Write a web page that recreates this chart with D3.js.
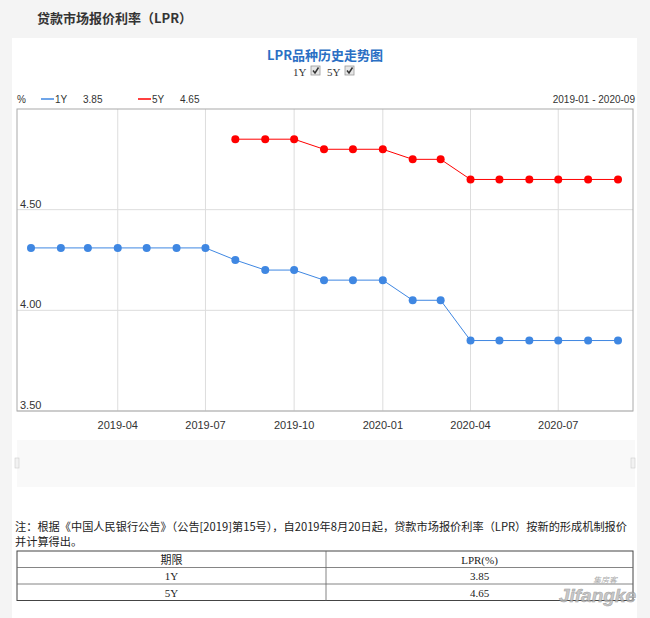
<!DOCTYPE html>
<html>
<head>
<meta charset="utf-8">
<script src="https://cdn.jsdelivr.net/npm/d3@7"></script>
<style>
  body { margin: 0; background: #f4f4f4; }
  svg { display: block; }
</style>
</head>
<body>
<script>
// data
var months = ["2019-01", "2019-02", "2019-03", "2019-04", "2019-05", "2019-06", "2019-07",
  "2019-08", "2019-09", "2019-10", "2019-11", "2019-12", "2020-01", "2020-02", "2020-03",
  "2020-04", "2020-05", "2020-06", "2020-07", "2020-08", "2020-09"];
var lpr1Y = [4.31, 4.31, 4.31, 4.31, 4.31, 4.31, 4.31, 4.25, 4.20, 4.20, 4.15, 4.15, 4.15,
  4.05, 4.05, 3.85, 3.85, 3.85, 3.85, 3.85, 3.85];
var lpr5Y = [null, null, null, null, null, null, null, 4.85, 4.85, 4.85, 4.80, 4.80, 4.80,
  4.75, 4.75, 4.65, 4.65, 4.65, 4.65, 4.65, 4.65];
var yTicks = [3.5, 4.0, 4.5];
var tableRows = [["1Y", "3.85"], ["5Y", "4.65"]];

var parse = d3.timeParse( "%Y-%m" );
var fmt = d3.timeFormat( "%Y-%m" );

var svg = d3.select( "body" ).append( "svg" )
  .attr( "width", 650 )
  .attr( "height", 618 );

var font = "Arial, 'Liberation Sans', sans-serif";
var cjk = "'Noto Sans CJK SC', sans-serif";

// page title
svg.append( "text" )
  .attr( "x", 37 ).attr( "y", 23 )
  .attr( "font-family", cjk ).attr( "font-size", 13 ).attr( "font-weight", "bold" )
  .attr( "fill", "#333" )
  .text( "贷款市场报价利率（LPR）" );

// white panel
svg.append( "rect" )
  .attr( "x", 12 ).attr( "y", 38 ).attr( "width", 625 ).attr( "height", 580 )
  .attr( "fill", "#fff" );

// chart title
svg.append( "text" )
  .attr( "x", 325 ).attr( "y", 60 ).attr( "text-anchor", "middle" )
  .attr( "font-family", cjk ).attr( "font-size", 13 ).attr( "font-weight", "bold" )
  .attr( "fill", "#2a6fc4" )
  .text( "LPR品种历史走势图" );

// series toggles
var toggles = [{ name: "1Y", x: 293 }, { name: "5Y", x: 327 }];
var tg = svg.selectAll( "g.toggle" )
  .data( toggles )
  .enter().append( "g" )
  .attr( "class", "toggle" )
  .attr( "transform", function ( d ) { return "translate(" + d.x + ",0)"; } );
tg.append( "text" )
  .attr( "y", 76 ).attr( "font-family", "'Liberation Serif', serif" ).attr( "font-size", 11 )
  .attr( "fill", "#333" )
  .text( function ( d ) { return d.name; } );
tg.append( "rect" )
  .attr( "x", 18 ).attr( "y", 66 ).attr( "width", 9 ).attr( "height", 9 )
  .attr( "fill", "#e6e6e6" ).attr( "stroke", "#999" ).attr( "stroke-width", 0.8 );
tg.append( "path" )
  .attr( "d", "M20,70.5 L22,73 L25.5,67.5" )
  .attr( "fill", "none" ).attr( "stroke", "#333" ).attr( "stroke-width", 1.5 );

// plot box
var plotL = 17, plotR = 633, plotT = 109, plotB = 411;

var x = d3.scaleTime()
  .domain( [parse( months[0] ), parse( months[months.length - 1] )] )
  .range( [31, 618] );
var y = d3.scaleLinear()
  .domain( [3.5, 5.0] )
  .range( [plotB, plotT] );

// horizontal grid
svg.selectAll( "line.hgrid" )
  .data( yTicks )
  .enter().append( "line" )
  .attr( "class", "hgrid" )
  .attr( "x1", plotL ).attr( "x2", plotR )
  .attr( "y1", function ( d ) { return y( d ); } )
  .attr( "y2", function ( d ) { return y( d ); } )
  .attr( "stroke", "#ddd" );

// vertical grid + x labels, every 3 months
var xTicks = x.ticks( d3.timeMonth.every( 3 ) ).filter( function ( d ) {
  return x( d ) > 40;
} );
svg.selectAll( "line.vgrid" )
  .data( xTicks )
  .enter().append( "line" )
  .attr( "class", "vgrid" )
  .attr( "x1", function ( d ) { return x( d ); } )
  .attr( "x2", function ( d ) { return x( d ); } )
  .attr( "y1", plotT ).attr( "y2", plotB )
  .attr( "stroke", "#ddd" );
svg.selectAll( "text.xlab" )
  .data( xTicks )
  .enter().append( "text" )
  .attr( "class", "xlab" )
  .attr( "x", function ( d ) { return x( d ); } )
  .attr( "y", 429 )
  .attr( "text-anchor", "middle" )
  .attr( "font-family", font ).attr( "font-size", 11 ).attr( "fill", "#333" )
  .text( function ( d ) { return fmt( d ); } );

svg.append( "rect" )
  .attr( "x", plotL ).attr( "y", plotT )
  .attr( "width", plotR - plotL ).attr( "height", plotB - plotT )
  .attr( "fill", "none" ).attr( "stroke", "#aaa" );

// y labels sit inside plot above their grid lines
svg.selectAll( "text.ylab" )
  .data( yTicks )
  .enter().append( "text" )
  .attr( "class", "ylab" )
  .attr( "x", 20 )
  .attr( "y", function ( d ) { return y( d ) - 2; } )
  .attr( "font-family", font ).attr( "font-size", 11 ).attr( "fill", "#333" )
  .text( function ( d ) { return d.toFixed( 2 ); } );

// series
var series = [
  { name: "1Y", values: lpr1Y, color: "#3f87e2" },
  { name: "5Y", values: lpr5Y, color: "#ff0000" }
];

series.forEach( function ( s ) {
  var pts = months.map( function ( m, i ) {
    return { date: parse( m ), v: s.values[i] };
  } ).filter( function ( d ) { return d.v != null; } );

  svg.append( "path" )
    .datum( pts )
    .attr( "fill", "none" )
    .attr( "stroke", s.color )
    .attr( "stroke-width", 1 )
    .attr( "d", d3.line()
      .x( function ( d ) { return x( d.date ); } )
      .y( function ( d ) { return y( d.v ); } ) );

  svg.selectAll( "circle.s" + s.name )
    .data( pts )
    .enter().append( "circle" )
    .attr( "class", "s" + s.name )
    .attr( "cx", function ( d ) { return x( d.date ); } )
    .attr( "cy", function ( d ) { return y( d.v ); } )
    .attr( "r", 4 )
    .attr( "fill", s.color );
} );

// legend row
svg.append( "text" )
  .attr( "x", 17 ).attr( "y", 103 )
  .attr( "font-family", font ).attr( "font-size", 10 ).attr( "fill", "#333" )
  .text( "%" );

var legend = svg.selectAll( "g.legend" )
  .data( series )
  .enter().append( "g" )
  .attr( "class", "legend" )
  .attr( "transform", function ( d, i ) { return "translate(" + ( 41 + i * 97 ) + ",0)"; } );
legend.append( "line" )
  .attr( "x1", 0 ).attr( "x2", 13 ).attr( "y1", 99 ).attr( "y2", 99 )
  .attr( "stroke", function ( d ) { return d.color; } ).attr( "stroke-width", 1.5 );
legend.append( "text" )
  .attr( "x", 14 ).attr( "y", 103 )
  .attr( "font-family", font ).attr( "font-size", 10 ).attr( "fill", "#333" )
  .text( function ( d ) { return d.name; } );
legend.append( "text" )
  .attr( "x", 42 ).attr( "y", 103 )
  .attr( "font-family", font ).attr( "font-size", 10 ).attr( "fill", "#333" )
  .text( function ( d ) {
    var vals = d.values.filter( function ( v ) { return v != null; } );
    return vals[vals.length - 1].toFixed( 2 );
  } );

svg.append( "text" )
  .attr( "x", 635 ).attr( "y", 103 ).attr( "text-anchor", "end" )
  .attr( "font-family", font ).attr( "font-size", 10 ).attr( "fill", "#333" )
  .text( months[0] + " - " + months[months.length - 1] );

// navigator strip
svg.append( "rect" )
  .attr( "x", 17 ).attr( "y", 440 ).attr( "width", 618 ).attr( "height", 47 )
  .attr( "fill", "#f9f9f9" );
[17, 633].forEach( function ( hx ) {
  svg.append( "rect" )
    .attr( "x", hx - 2 ).attr( "y", 458 ).attr( "width", 4 ).attr( "height", 10 )
    .attr( "fill", "#f2f2f2" ).attr( "stroke", "#ccc" ).attr( "stroke-width", 0.6 );
} );

// note
var note = ["注：根据《中国人民银行公告》（公告[2019]第15号），自2019年8月20日起，贷款市场报价利率（LPR）按新的形成机制报价",
  "并计算得出。"];
svg.selectAll( "text.note" )
  .data( note )
  .enter().append( "text" )
  .attr( "class", "note" )
  .attr( "x", 15 )
  .attr( "y", function ( d, i ) { return 531 + i * 15; } )
  .attr( "font-family", cjk ).attr( "font-size", 11.2 ).attr( "fill", "#222" )
  .text( function ( d ) { return d; } );

// table
var tx0 = 17, tx1 = 326, tx2 = 633, ty = 551, rh = 16.5;
var allRows = [["期限", "LPR(%)"]].concat( tableRows );
svg.append( "rect" )
  .attr( "x", tx0 ).attr( "y", ty ).attr( "width", tx2 - tx0 ).attr( "height", rh * allRows.length )
  .attr( "fill", "none" ).attr( "stroke", "#444" );
svg.append( "line" )
  .attr( "x1", tx1 ).attr( "x2", tx1 ).attr( "y1", ty ).attr( "y2", ty + rh * allRows.length )
  .attr( "stroke", "#666" ).attr( "stroke-width", 0.8 );
svg.selectAll( "line.row" )
  .data( allRows.slice( 1 ) )
  .enter().append( "line" )
  .attr( "class", "row" )
  .attr( "x1", tx0 ).attr( "x2", tx2 )
  .attr( "y1", function ( d, i ) { return ty + rh * ( i + 1 ); } )
  .attr( "y2", function ( d, i ) { return ty + rh * ( i + 1 ); } )
  .attr( "stroke", "#666" ).attr( "stroke-width", 0.8 );
allRows.forEach( function ( r, i ) {
  svg.append( "text" )
    .attr( "x", ( tx0 + tx1 ) / 2 ).attr( "y", ty + rh * i + 12.5 ).attr( "text-anchor", "middle" )
    .attr( "font-family", i === 0 ? cjk : "'Liberation Serif', serif" ).attr( "font-size", 11 )
    .attr( "fill", "#222" ).text( r[0] );
  svg.append( "text" )
    .attr( "x", ( tx1 + tx2 ) / 2 ).attr( "y", ty + rh * i + 12.5 ).attr( "text-anchor", "middle" )
    .attr( "font-family", "'Liberation Serif', serif" ).attr( "font-size", 11 )
    .attr( "fill", "#222" ).text( r[1] );
} );

// watermark
svg.append( "text" )
  .attr( "x", 636 ).attr( "y", 602 ).attr( "text-anchor", "end" )
  .attr( "font-family", font ).attr( "font-size", 19 ).attr( "font-style", "italic" )
  .attr( "font-weight", "bold" ).attr( "fill", "#bbb" ).attr( "stroke", "#888" )
  .attr( "stroke-width", 0.5 ).attr( "opacity", 0.8 )
  .text( "Jifangke" );
svg.append( "text" )
  .attr( "x", 605 ).attr( "y", 583 ).attr( "text-anchor", "middle" )
  .attr( "font-family", cjk ).attr( "font-size", 8 ).attr( "font-style", "italic" )
  .attr( "fill", "#aaa" )
  .text( "集房客" );
</script>
</body>
</html>
